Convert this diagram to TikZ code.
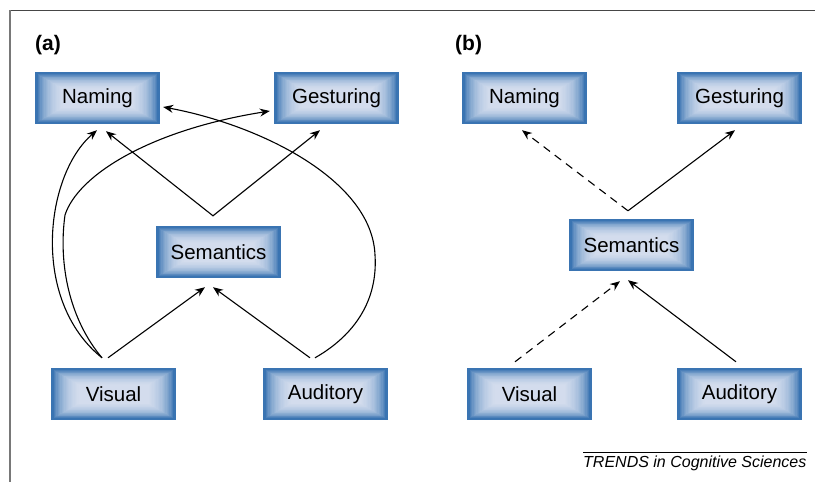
\documentclass[tikz,border=0pt]{standalone}
\usepackage{fontspec}
\setmainfont{Liberation Sans}
\usetikzlibrary{arrows.meta,calc}

\definecolor{boxedge}{RGB}{58,116,178}
\definecolor{boxcore}{RGB}{236,238,250}
\definecolor{framedark}{RGB}{70,70,70}
\definecolor{framelight}{RGB}{120,120,120}

\tikzset{
  % blue module box with a soft light glow inside
  modbox/.style={
    minimum width=125pt, minimum height=52pt, inner sep=0pt,
    fill=boxedge, font=\fontsize{20.5}{24}\selectfont,
    path picture={
      \foreach \k in {1,...,20}{
        \fill[boxcore, fill opacity=0.1]
          ([shift={(\k*1.3pt+1.5pt,-\k*0.75pt-1.5pt)}]path picture bounding box.north west)
          rectangle
          ([shift={(-\k*1.3pt-1.5pt,\k*0.75pt+1.5pt)}]path picture bounding box.south east);
      }
    }},
  conn/.style={line width=1.1pt, -{Stealth[length=10pt,width=8pt]}},
  dconn/.style={conn, dash pattern=on 8pt off 6pt},
  panel/.style={font=\fontsize{21}{25}\selectfont\bfseries, inner sep=0pt, anchor=west}
}

\begin{document}
\begin{tikzpicture}[x=1pt,y=-1pt]
  \useasboundingbox (0,0) rectangle (815,482);

  % frame
  \draw[framedark, line width=1.5pt] (9.25,10.5) -- (815,10.5);
  \draw[framelight, line width=1.5pt] (10,10) -- (10,482);

  % panel labels
  \node[panel] (labA) at (35,45) {(a)};
  \node[panel] (labB) at (455,45) {(b)};

  % ---------- panel (a) ----------
  \node[modbox] (namA) at (97.5,98)  {Naming};
  \node[modbox] (gesA) at (336.5,98) {Gesturing};
  \node[modbox] (semA) at (218.5,252) {Semantics};
  \node[modbox] (visA) at (113.5,394) {Visual};
  \node[modbox] (audA) at (325.5,394) {Auditory};

  \coordinate (apA)     at ($(semA.north)+(-5.5,-10)$);
  \coordinate (namTipA) at ($(namA.south)+(8.5,7)$);
  \coordinate (gesTipA) at ($(gesA.south)+(-16.5,6)$);
  \coordinate (semTipV) at ($(semA.south)+(-13.5,9)$);
  \coordinate (semTipU) at ($(semA.south)+(-5.5,9)$);
  \coordinate (visOutS) at ($(visA.north)+(-5.5,-10)$);
  \coordinate (visOutC) at ($(visA.north)+(-11.5,-10)$);
  \coordinate (audOutS) at ($(audA.north)+(-15.5,-10)$);
  \coordinate (audOutC) at ($(audA.north)+(-10.5,-10)$);
  \coordinate (namTipV) at ($(namA.south)+(-0.5,6)$);
  \coordinate (gesTipV) at ($(gesA.west)+(-4,13)$);
  \coordinate (namTipU) at ($(namA.east)+(3,9)$);

  % semantics to output modules
  \draw[line width=1.1pt, {Stealth[length=10pt,width=8pt]}-{Stealth[length=10pt,width=8pt]}]
    (namTipA) -- (apA) -- (gesTipA);
  % input modules to semantics
  \draw[conn] (visOutS) -- (semTipV);
  \draw[conn] (audOutS) -- (semTipU);
  % direct routes
  \draw[conn] (visOutC) .. controls (30,300) and (45,175) .. (namTipV);
  \draw[conn] (visOutC) .. controls (70,320) and (58,265) .. (65,215)
                        .. controls (78,175) and (150,130) .. (gesTipV);
  \draw[conn] (audOutC) .. controls (355,335) and (378,300) .. (375,255)
                        .. controls (372,180) and (260,125) .. (namTipU);

  % ---------- panel (b) ----------
  \node[modbox] (namB) at (524.5,98)  {Naming};
  \node[modbox] (gesB) at (739.5,98)  {Gesturing};
  \node[modbox] (semB) at (631.5,245) {Semantics};
  \node[modbox] (visB) at (529.5,394) {Visual};
  \node[modbox] (audB) at (739.5,394) {Auditory};

  \coordinate (apB)     at ($(semB.north)+(-3.5,-8)$);
  \coordinate (namTipB) at ($(namB.south)+(-2.5,6)$);
  \coordinate (gesTipB) at ($(gesB.south)+(-4.5,6)$);
  \coordinate (visOutB) at ($(visB.north)+(-14.5,-6)$);
  \coordinate (audOutB) at ($(audB.north)+(-3.5,-6)$);
  \coordinate (semTipVB) at ($(semB.south)+(-11.5,10)$);
  \coordinate (semTipUB) at ($(semB.south)+(-3.5,9)$);

  \draw[dconn] (apB) -- (namTipB);
  \draw[conn]  (apB) -- (gesTipB);
  \draw[dconn] (visOutB) -- (semTipVB);
  \draw[conn]  (audOutB) -- (semTipUB);

  % credit line
  \node[anchor=base west, inner sep=0pt, font=\fontsize{16}{19}\selectfont\itshape]
    (credit) at (583,467) {TRENDS in Cognitive Sciences};
  \draw[line width=0.9pt] ([yshift=2.5pt]credit.north west) -- ([yshift=2.5pt]credit.north east);
\end{tikzpicture}
\end{document}
